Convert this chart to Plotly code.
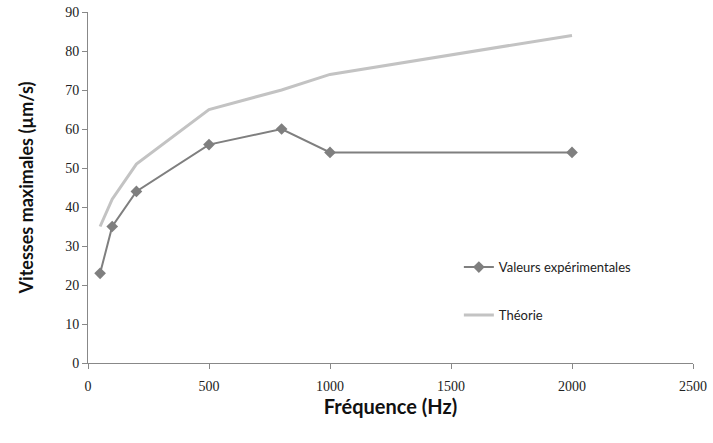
import plotly.graph_objects as go

freq = [50, 100, 200, 500, 800, 1000, 2000]
experimental = [23, 35, 44, 56, 60, 54, 54]
theory = [35, 42, 51, 65, 70, 74, 84]

fig = go.Figure()

fig.add_trace(go.Scatter(
    x=freq,
    y=experimental,
    name="Valeurs expérimentales",
    legendgroup="a",
    mode="lines+markers",
    line=dict(color="#7f7f7f", width=2),
    marker=dict(symbol="diamond", size=9, color="#7f7f7f")
))

fig.add_trace(go.Scatter(
    x=freq,
    y=theory,
    name="Théorie",
    legendgroup="b",
    mode="lines",
    line=dict(color="#c3c3c3", width=3)
))

axis_font = dict(family="Liberation Serif, serif", size=14, color="#222222")

fig.update_layout(
    width=713,
    height=443,
    margin=dict(l=88, r=20, t=12, b=80),
    paper_bgcolor="white",
    plot_bgcolor="white",
    showlegend=True,
    legend=dict(
        x=0.613,
        y=0.316,
        xanchor="left",
        yanchor="top",
        bgcolor="rgba(0,0,0,0)",
        traceorder="grouped",
        tracegroupgap=28,
        font=dict(family="Lato, sans-serif", size=13, color="#222222"),
        itemwidth=30
    ),
    xaxis=dict(
        range=[0, 2500],
        dtick=500,
        automargin=False,
        showgrid=False,
        zeroline=False,
        showline=True,
        linecolor="#888888",
        linewidth=1,
        ticks="outside",
        ticklen=5,
        tickcolor="#888888",
        tickfont=axis_font,
        ticklabelstandoff=5,
        title=dict(text="<b>Fréquence (Hz)</b>",
                   font=dict(family="Lato, sans-serif", size=20, color="#111111"),
                   standoff=4)
    ),
    yaxis=dict(
        range=[0, 90],
        dtick=10,
        automargin=False,
        showgrid=False,
        zeroline=False,
        showline=True,
        linecolor="#888888",
        linewidth=1,
        ticks="outside",
        ticklen=5,
        tickcolor="#888888",
        tickfont=axis_font,
        title=dict(text="<b>Vitesses maximales (µm/s)</b>",
                   font=dict(family="Lato, sans-serif", size=18, color="#111111"),
                   standoff=26)
    )
)

# drop the default 8px body margin so the figure fills the window
fig.write_html("out.html", config={"displayModeBar": False},
               post_script="document.body.style.margin='0';")
